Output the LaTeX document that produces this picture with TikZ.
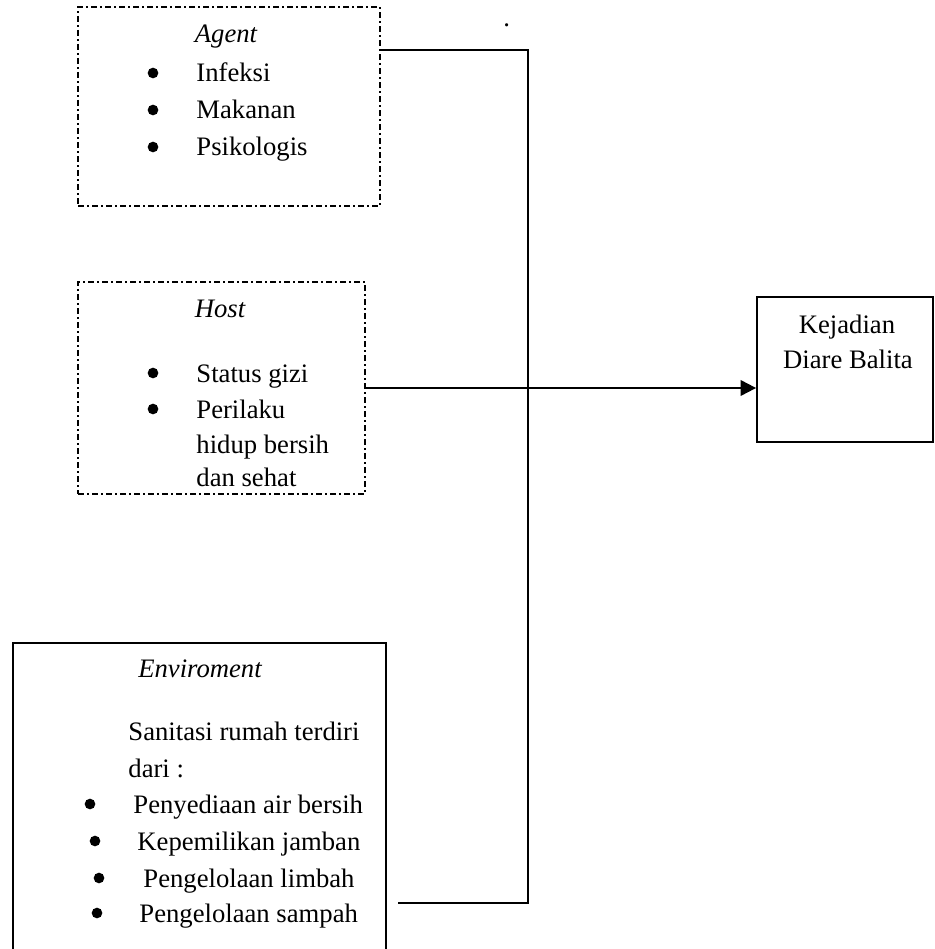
\documentclass[tikz,border=0pt]{standalone}
\usepackage{fontspec}
\setmainfont{Liberation Serif}
\usetikzlibrary{arrows.meta, fit}

\begin{document}
\begin{tikzpicture}[
    x=0.45pt, y=-0.45pt,
    dashbox/.style={draw, line width=0.7pt, dash pattern=on 2.8pt off 1.4pt on 0.7pt off 1.4pt, inner sep=0pt},
    solidbox/.style={draw, line width=0.8pt, inner sep=0pt},
    heading/.style={anchor=base, inner sep=0pt, font=\fontsize{12}{14}\selectfont\itshape},
    entry/.style={anchor=base west, inner sep=0pt, font=\fontsize{12}{14}\selectfont},
    centered/.style={anchor=base, inner sep=0pt, font=\fontsize{12}{14}\selectfont},
    bulletmark/.style={circle, fill, inner sep=0pt, minimum size=4.8pt},
    link/.style={line width=0.9pt},
    arrow/.style={line width=0.9pt, -{Triangle[length=7pt, width=7pt]}}
]
\useasboundingbox (0,0) rectangle (934,949);

% Boxes
\node[dashbox, fit={(78,7) (380,206)}] (agent) {};
\node[dashbox, fit={(78,282) (365,494)}] (host) {};
\node[solidbox, fit={(13,643) (386,960)}] (env) {};
\node[solidbox, fit={(757,297) (933,442)}] (kejadian) {};

% Agent
\node[heading] (agenttitle) at (226,43) {Agent};
\node[bulletmark] (agentb1) at (153,73) {};
\node[entry] (infeksi) at (196,82) {Infeksi};
\node[bulletmark] (agentb2) at (153,110) {};
\node[entry] (makanan) at (196,119) {Makanan};
\node[bulletmark] (agentb3) at (153,147) {};
\node[entry] (psikologis) at (196,156) {Psikologis};

% Host
\node[heading] (hosttitle) at (220,317) {Host};
\node[bulletmark] (hostb1) at (153,373) {};
\node[entry] (gizi) at (196,382) {Status gizi};
\node[bulletmark] (hostb2) at (153,409) {};
\node[entry] (perilaku) at (196,418) {Perilaku};
\node[entry] (hidup) at (196,453) {hidup bersih};
\node[entry] (sehat) at (196,486) {dan sehat};

% Environment
\node[heading] (envtitle) at (200,677) {Enviroment};
\node[entry] (sanitasi) at (128,740) {Sanitasi rumah terdiri};
\node[entry] (dari) at (128,777) {dari :};
\node[bulletmark] (envb1) at (90,804) {};
\node[entry] (air) at (133,813) {Penyediaan air bersih};
\node[bulletmark] (envb2) at (95,841) {};
\node[entry] (jamban) at (137,850) {Kepemilikan jamban};
\node[bulletmark] (envb3) at (99,878) {};
\node[entry] (limbah) at (143,887) {Pengelolaan limbah};
\node[bulletmark] (envb4) at (97,913) {};
\node[entry] (sampah) at (139,922) {Pengelolaan sampah};

% Outcome
\node[centered] (kejadian1) at (847,333) {Kejadian};
\node[centered] (kejadian2) at (848,368) {Diare Balita};

\node[entry] (stray) at (503,27) {.};

% Connectors
\coordinate (bendtop) at (528,50);
\coordinate (bendbottom) at (528,903);
\coordinate (envend) at (398,903);
\draw[link] (agent.east |- bendtop) -- (bendtop) -- (bendbottom) -- (envend);
\draw[arrow] (host.east) -- (host.east -| kejadian.west);

\end{tikzpicture}
\end{document}
